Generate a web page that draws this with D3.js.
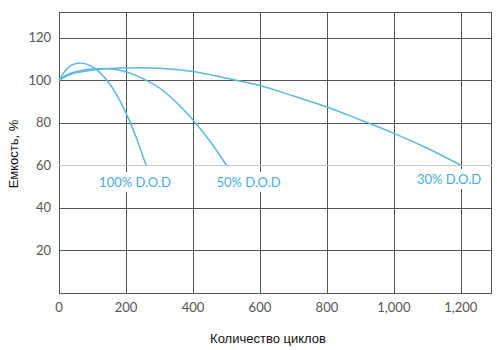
<!DOCTYPE html>
<html><head><meta charset="utf-8">
<script src="https://cdn.jsdelivr.net/npm/d3@7"></script>
<style>body{margin:0;background:#fff}svg{display:block}</style>
</head><body><svg id="c" width="497" height="350"></svg>
<script>
const xTicks = [0, 200, 400, 600, 800, 1000, 1200];
const yTicks = [20, 40, 60, 80, 100, 120];
const xLabel = "Количество циклов";
const yLabel = "Емкость, %";
const seriesNames = ["100% D.O.D", "50% D.O.D", "30% D.O.D"];
const dod100 = [[0,100],[10,102.5],[20,104.6],[35,106.8],[61,108.1],[85,107.4],[108,105.4],[137,101.1],[170,93.7],[200,84.6],[230,73.3],[260,60]];
const dod50 = [[0,100],[15,101.8],[31,103],[60,104.3],[91,105.1],[130,105.5],[170,105],[200,103.9],[250,100.7],[300,96.3],[350,89.6],[400,81.3],[450,71.5],[500,60]];
const dod30 = [[0,100],[31,102.5],[91,104.5],[150,105.5],[250,105.8],[300,105.6],[400,104.1],[511,100.5],[600,97.5],[700,92.5],[800,87.4],[900,81.3],[1000,75],[1100,68],[1200,60]];
const series = [dod100, dod50, dod30];

const svg = d3.select("#c");
const L = 59, R = 491, T = 12, B = 293;
const x = d3.scaleLinear().domain([0, 1290]).range([L, R]);
const y = d3.scaleLinear().domain([0, 132]).range([B, T]);
const curveColor = "#5ab9e0", labelColor = "#45aedb";

// grid
const g = svg.append("g");
xTicks.concat([1290]).forEach(v => {
  g.append("line").attr("x1", Math.round(x(v)) + 0.5).attr("x2", Math.round(x(v)) + 0.5)
    .attr("y1", T).attr("y2", B).attr("stroke", "#555").attr("stroke-width", 1);
});
yTicks.concat([0, 132]).forEach(v => {
  g.append("line").attr("x1", L).attr("x2", R + 1)
    .attr("y1", Math.round(y(v)) + 0.5).attr("y2", Math.round(y(v)) + 0.5)
    .attr("stroke", v === 60 ? "#c8c8c8" : "#555").attr("stroke-width", 1);
});

// tick labels
xTicks.forEach(v => {
  svg.append("text").attr("x", x(v)).attr("y", 312).attr("text-anchor", "middle")
    .attr("font-family", "Lato, sans-serif").attr("font-size", 13).attr("fill", "#555")
    .text(d3.format(",")(v));
});
yTicks.forEach(v => {
  svg.append("text").attr("x", 51).attr("y", y(v) + 4.5).attr("text-anchor", "end")
    .attr("font-family", "Lato, sans-serif").attr("font-size", 13).attr("fill", "#555")
    .text(v);
});

// axis titles
svg.append("text").attr("x", 268).attr("y", 343).attr("text-anchor", "middle")
  .attr("font-family", "Liberation Sans, Arial, sans-serif").attr("font-size", 13).attr("fill", "#111")
  .text(xLabel);
svg.append("text").attr("transform", "translate(18,154) rotate(-90)").attr("text-anchor", "middle")
  .attr("font-family", "Liberation Sans, Arial, sans-serif").attr("font-size", 13).attr("fill", "#111")
  .text(yLabel);

// curves
const line = d3.line().x(d => x(d[0])).y(d => y(d[1])).curve(d3.curveMonotoneX);
series.forEach(s => {
  svg.append("path").attr("d", line(s)).attr("fill", "none")
    .attr("stroke", curveColor).attr("stroke-width", 1.5);
});

// series labels
const labelPos = [[135, 187], [248.5, 187], [449, 184]];
seriesNames.forEach((name, i) => {
  const t = svg.append("text").attr("x", labelPos[i][0]).attr("y", labelPos[i][1])
    .attr("text-anchor", "middle").attr("font-family", "Lato, sans-serif")
    .attr("font-size", 13).attr("fill", labelColor).text(name);
  const bb = t.node().getBBox();
  svg.insert("rect", () => t.node()).attr("x", bb.x - 4).attr("y", Math.max(bb.y - 2, 166))
    .attr("width", bb.width + 8).attr("height", bb.y + bb.height + 2 - Math.max(bb.y - 2, 166))
    .attr("fill", "#fff");
});
</script></body></html>
